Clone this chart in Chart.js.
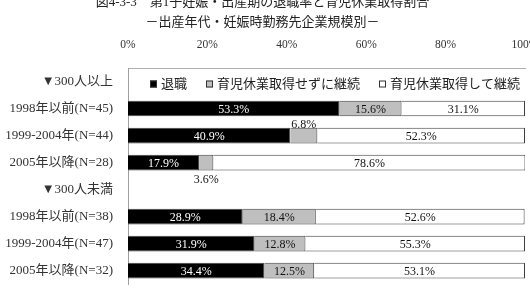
<!DOCTYPE html>
<html>
<head>
<meta charset="utf-8">
<script src="https://cdn.jsdelivr.net/npm/chart.js@4/dist/chart.umd.min.js"></script>
<style>
  html, body { margin: 0; padding: 0; background: #fff; overflow: hidden; width: 530px; height: 307px; }
  #c { position: absolute; left: 0; top: -7px; width: 530px; height: 314px; }
</style>
</head>
<body>
<canvas id="c" width="530" height="314"></canvas>
<script>
const titleLines = ['図4-3-3　第1子妊娠・出産期の退職率と育児休業取得割合', '－出産年代・妊娠時勤務先企業規模別－'];
const categories = ['▼300人以上', '1998年以前(N=45)', '1999-2004年(N=44)', '2005年以降(N=28)',
                    '▼300人未満', '1998年以前(N=38)', '1999-2004年(N=47)', '2005年以降(N=32)'];
const seriesNames = ['退職', '育児休業取得せずに継続', '育児休業取得して継続'];
const taishoku      = [null, 53.3, 40.9, 17.9, null, 28.9, 31.9, 34.4];
const keizokuNoLeave = [null, 15.6, 6.8, 3.6, null, 18.4, 12.8, 12.5];
const keizokuLeave   = [null, 31.1, 52.3, 78.6, null, 52.6, 55.3, 53.1];
const xTicks = [0, 20, 40, 60, 80, 100];

const FONT = "'Liberation Serif', 'Noto Sans CJK JP', serif";
const fills = ['#000000', '#bfbfbf', '#ffffff'];
const labelColors = ['#ffffff', '#111111', '#111111'];

const valueLabels = {
  id: 'valueLabels',
  afterDatasetsDraw(chart) {
    const ctx = chart.ctx;
    ctx.save();
    ctx.font = '12px ' + FONT;
    ctx.textAlign = 'center';
    ctx.textBaseline = 'middle';
    chart.data.datasets.forEach((ds, di) => {
      const meta = chart.getDatasetMeta(di);
      meta.data.forEach((el, i) => {
        const v = ds.data[i];
        if (v === null || v === undefined) return;
        const cx = (el.x + el.base) / 2;
        let cy = el.y;
        if (v < 10) {
          const h = el.height;
          if (i % 2 === 0) cy = el.y - h / 2 - 4; else cy = el.y + h / 2 + 8;
          ctx.fillStyle = '#111';
        } else {
          ctx.fillStyle = labelColors[di];
        }
        ctx.fillText(v.toFixed(1) + '%', cx, cy + 1);
      });
    });
    ctx.restore();
  }
};

const innerLegend = {
  id: 'innerLegend',
  afterDraw(chart) {
    const ctx = chart.ctx;
    const y = chart.scales.y.getPixelForValue(0) + 3;
    let x = chart.chartArea.left + 22;
    ctx.save();
    ctx.font = '13px ' + FONT;
    ctx.textBaseline = 'middle';
    ctx.textAlign = 'left';
    seriesNames.forEach((name, i) => {
      ctx.fillStyle = fills[i];
      ctx.fillRect(x, y - 4, 7, 7);
      ctx.strokeStyle = '#333';
      ctx.lineWidth = 1;
      ctx.strokeRect(x + 0.5, y - 3.5, 6, 6);
      ctx.fillStyle = '#222';
      ctx.fillText(name, x + 11, y);
      x += 11 + ctx.measureText(name).width + 19;
    });
    ctx.restore();
  }
};

const mk = (label, data, i) => ({
  label, data,
  backgroundColor: fills[i],
  borderColor: '#404040',
  borderWidth: 1,
  barPercentage: 0.58,
  categoryPercentage: 1.0
});

new Chart(document.getElementById('c'), {
  type: 'bar',
  data: {
    labels: categories,
    datasets: [
      mk(seriesNames[0], taishoku, 0),
      mk(seriesNames[1], keizokuNoLeave, 1),
      mk(seriesNames[2], keizokuLeave, 2)
    ]
  },
  options: {
    indexAxis: 'y',
    responsive: false,
    animation: false,
    devicePixelRatio: 1,
    layout: { padding: { left: 0, right: 5, top: 0, bottom: 0 } },
    plugins: {
      legend: { display: false },
      tooltip: { enabled: false },
      title: {
        display: true,
        text: titleLines,
        color: '#222',
        font: { family: FONT, size: 13, weight: 'normal', lineHeight: 1.5 },
        padding: { top: 0, bottom: 0 }
      }
    },
    scales: {
      x: {
        position: 'top',
        stacked: true,
        min: 0, max: 100,
        afterBuildTicks: (s) => { s.ticks = xTicks.map(v => ({ value: v })); },
        afterFit: (s) => { s.height = 36; s.paddingLeft = 0; s.paddingRight = 0; },
        grid: { display: false, drawTicks: false },
        border: { display: true, color: '#b0b0b0', width: 1 },
        ticks: {
          padding: 16,
          color: '#333',
          font: { family: FONT, size: 11.5 },
          callback: (v) => v + '%'
        }
      },
      y: {
        stacked: true,
        afterFit: (s) => { s.width = 128; },
        grid: { display: false, drawTicks: false },
        border: { display: true, color: '#a0a0a0', width: 1 },
        ticks: {
          padding: 15,
          color: '#333',
          font: { family: FONT, size: 13 }
        }
      }
    }
  },
  plugins: [valueLabels, innerLegend]
});
</script>
</body>
</html>
